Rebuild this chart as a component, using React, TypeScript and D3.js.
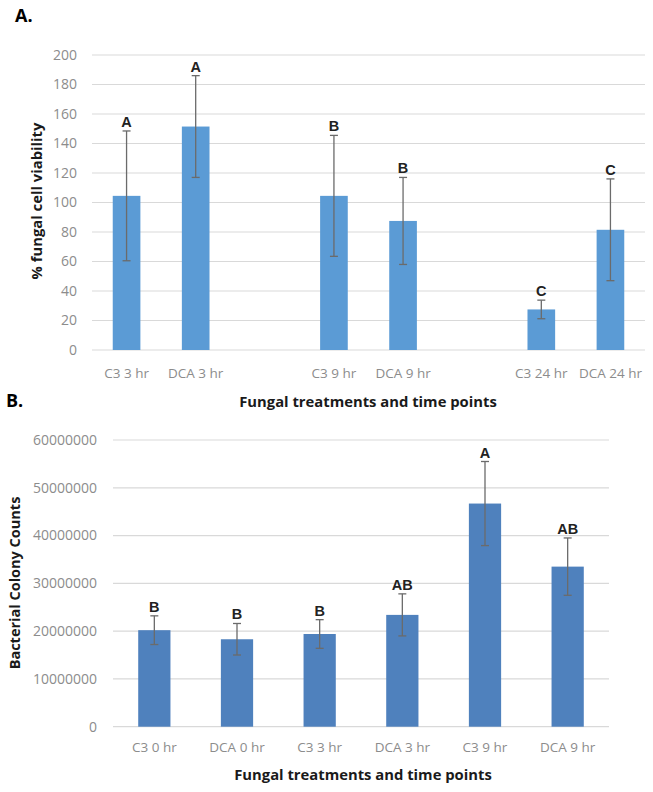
import React from "react";
import * as d3 from "d3";

// Panel A data
const catsA = ["C3 3 hr", "DCA 3 hr", "", "C3 9 hr", "DCA 9 hr", " ", "C3 24 hr", "DCA 24 hr"];
const valsA: (number | null)[] = [104.5, 151.5, null, 104.5, 87.5, null, 27.5, 81.5];
const errA: (number | null)[] = [44, 34.5, null, 41, 29.5, null, 6.3, 34.5];
const lettersA = ["A", "A", "", "B", "B", "", "C", "C"];
const ticksA = [0, 20, 40, 60, 80, 100, 120, 140, 160, 180, 200];

// Panel B data
const catsB = ["C3 0 hr", "DCA 0 hr", "C3 3 hr", "DCA 3 hr", "C3 9 hr", "DCA 9 hr"];
const valsB = [20200000, 18300000, 19400000, 23400000, 46700000, 33500000];
const errB = [3000000, 3300000, 3000000, 4400000, 8800000, 6000000];
const lettersB = ["B", "B", "B", "AB", "A", "AB"];
const ticksB = [0, 10000000, 20000000, 30000000, 40000000, 50000000, 60000000];

const FONT = "'Open Sans', 'DejaVu Sans', sans-serif";
const LETTER_FONT = "'Liberation Sans', Arial, sans-serif";

export default function App() {
  // Panel A scales
  const xA = d3.scaleBand().domain(catsA).range([92, 645]).paddingInner(0.6).paddingOuter(0.3);
  const yA = d3.scaleLinear().domain([0, 200]).range([350, 55]);
  // Panel B scales
  const xB = d3.scaleBand().domain(catsB).range([113, 609]).paddingInner(0.61).paddingOuter(0.305);
  const yB = d3.scaleLinear().domain([0, 60000000]).range([726.7, 440]);

  const grid = "#d9d9d9";
  const tickCol = "#8c8c8c";
  const errCol = "#6b6b6b";

  return (
    <svg width={653} height={792} style={{ position: "absolute", left: 0, top: 0, background: "#fff" }}>
      {/* ---------- Panel A ---------- */}
      <text x={15} y={22} fontFamily={FONT} fontWeight="bold" fontSize={18} fill="#000">A.</text>
      {ticksA.map((t) => (
        <g key={"ga" + t}>
          <line x1={92} x2={645} y1={yA(t)} y2={yA(t)} stroke={grid} strokeWidth={1.2} />
          <text x={77} y={yA(t)} dy="0.35em" textAnchor="end" fontFamily={FONT} fontSize={14} fill={tickCol}>{t}</text>
        </g>
      ))}
      {catsA.map((c, i) => {
        const v = valsA[i];
        if (v === null) return null;
        const cx = xA(c)! + xA.bandwidth() / 2;
        const e = errA[i]!;
        return (
          <g key={"ba" + i}>
            <rect x={xA(c)} y={yA(v)} width={xA.bandwidth()} height={yA(0) - yA(v)} fill="#5b9bd5" />
            <line x1={cx} x2={cx} y1={yA(v + e)} y2={yA(v - e)} stroke={errCol} strokeWidth={1.3} />
            <line x1={cx - 4} x2={cx + 4} y1={yA(v + e)} y2={yA(v + e)} stroke={errCol} strokeWidth={1.3} />
            <line x1={cx - 4} x2={cx + 4} y1={yA(v - e)} y2={yA(v - e)} stroke={errCol} strokeWidth={1.3} />
            <text x={cx} y={yA(v + e) - 4} textAnchor="middle" fontFamily={LETTER_FONT} fontWeight="bold" fontSize={14.5} fill="#222">{lettersA[i]}</text>
          </g>
        );
      })}
      {catsA.map((c, i) =>
        valsA[i] === null ? null : (
          <text key={"la" + i} x={xA(c)! + xA.bandwidth() / 2} y={373} dy="0.35em" textAnchor="middle" fontFamily={FONT} fontSize={13.5} fill={tickCol}>{c}</text>
        )
      )}
      <text x={368} y={402} dy="0.35em" textAnchor="middle" fontFamily={FONT} fontWeight="bold" fontSize={14.8} fill="#1a1a1a">Fungal  treatments and time points</text>
      <text transform={`translate(37,${201}) rotate(-90)`} dy="0.35em" textAnchor="middle" fontFamily={FONT} fontWeight="bold" fontSize={14.8} fill="#1a1a1a">% fungal cell viability</text>

      {/* ---------- Panel B ---------- */}
      <text x={6} y={407} fontFamily={FONT} fontWeight="bold" fontSize={18} fill="#000">B.</text>
      {ticksB.map((t) => (
        <g key={"gb" + t}>
          <line x1={113} x2={609} y1={yB(t)} y2={yB(t)} stroke={grid} strokeWidth={1.2} />
          <text x={97} y={yB(t)} dy="0.35em" textAnchor="end" fontFamily={FONT} fontSize={14} fill={tickCol}>{t}</text>
        </g>
      ))}
      {catsB.map((c, i) => {
        const v = valsB[i];
        const e = errB[i];
        const cx = xB(c)! + xB.bandwidth() / 2;
        return (
          <g key={"bb" + i}>
            <rect x={xB(c)} y={yB(v)} width={xB.bandwidth()} height={yB(0) - yB(v)} fill="#4f81bd" />
            <line x1={cx} x2={cx} y1={yB(v + e)} y2={yB(v - e)} stroke={errCol} strokeWidth={1.3} />
            <line x1={cx - 4} x2={cx + 4} y1={yB(v + e)} y2={yB(v + e)} stroke={errCol} strokeWidth={1.3} />
            <line x1={cx - 4} x2={cx + 4} y1={yB(v - e)} y2={yB(v - e)} stroke={errCol} strokeWidth={1.3} />
            <text x={cx} y={yB(v + e) - 4} textAnchor="middle" fontFamily={LETTER_FONT} fontWeight="bold" fontSize={14.5} fill="#222">{lettersB[i]}</text>
            <text x={cx} y={747} dy="0.35em" textAnchor="middle" fontFamily={FONT} fontSize={13.5} fill={tickCol}>{c}</text>
          </g>
        );
      })}
      <text x={363} y={775} dy="0.35em" textAnchor="middle" fontFamily={FONT} fontWeight="bold" fontSize={14.8} fill="#1a1a1a">Fungal  treatments and time points</text>
      <text transform={`translate(15,${583}) rotate(-90)`} dy="0.35em" textAnchor="middle" fontFamily={FONT} fontWeight="bold" fontSize={14.5} fill="#1a1a1a">Bacterial Colony Counts</text>
    </svg>
  );
}
